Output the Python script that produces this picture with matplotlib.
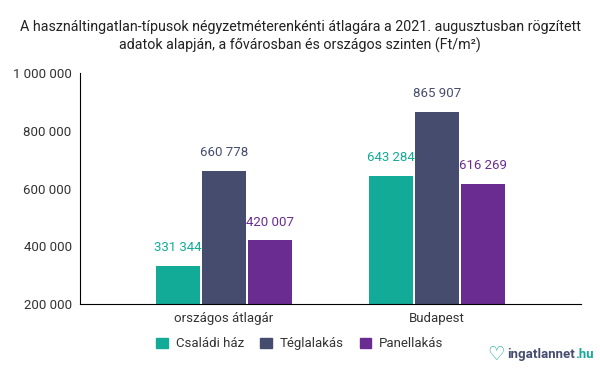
import numpy as np
import matplotlib
matplotlib.use('Agg')
from matplotlib import pyplot as plt
from matplotlib.patches import Patch

plt.rcParams['font.family'] = ['Roboto', 'DejaVu Sans']

# data
categories = ['országos átlagár', 'Budapest']
series_names = ['Családi ház', 'Téglalakás', 'Panellakás']
csaladi_haz = [331344, 643284]
teglalakas = [660778, 865907]
panellakas = [420007, 616269]
y_ticks = [200000, 400000, 600000, 800000, 1000000]

colors = ['#12ab97', '#464c6e', '#6a2c91']
title = ('A használtingatlan-típusok négyzetméterenkénti átlagára a 2021. augusztusban rögzített\n'
         'adatok alapján, a fővárosban és országos szinten (Ft/m²)')


def fmt(v):
    return f'{v:,.0f}'.replace(',', ' ')


fig = plt.figure(figsize=(6, 3.71), dpi=100)
ax = fig.add_axes([0.1333, 0.1806, 0.8350, 0.6226])

x = np.arange(len(categories))
width = 0.204
step = 0.216
for i, vals in enumerate([csaladi_haz, teglalakas, panellakas]):
    pos = x + (i - 1) * step
    ax.bar(pos, vals, width=width, color=colors[i], zorder=2)
    for p, v in zip(pos, vals):
        ax.annotate(fmt(v), (p, v), xytext=(0, 8.5), textcoords='offset points',
                    ha='center', va='bottom', color=colors[i], fontsize=9.5)

ax.set_ylim(200000, 1000000)
ax.set_xlim(-0.676, 1.676)
ax.set_yticks(y_ticks)
ax.set_yticklabels([fmt(v) for v in y_ticks], fontsize=9.5, color='#333333')
ax.set_xticks(x)
ax.set_xticklabels(categories, fontsize=9.5, color='#333333')
ax.tick_params(axis='both', length=0, pad=6)
ax.spines['top'].set_visible(False)
ax.spines['right'].set_visible(False)
ax.spines['left'].set_color('black')
ax.spines['bottom'].set_color('black')

fig.text(0.5, 0.946, title, ha='center', va='top', fontsize=10.3, color='#222222',
         linespacing=1.3)

handles = [Patch(color=c, label=n) for c, n in zip(colors, series_names)]
fig.legend(handles=handles, loc='center', bbox_to_anchor=(0.5, 0.073), ncol=3,
           frameon=False, fontsize=9.5, handlelength=0.85, handleheight=0.85,
           columnspacing=1.25, handletextpad=0.6, labelcolor='#333333')

# logo, built right to left so it stays inside the figure
hu = fig.text(0.99, 0.045, '.hu', ha='right', va='center', fontsize=9.5,
              color='#12ab97', fontweight='bold')
name_txt = ax.annotate('ingatlannet', xy=(0, 0.5), xycoords=hu, ha='right', va='center',
                       fontsize=9.5, color='#464c6e', fontweight='bold',
                       annotation_clip=False)
ax.annotate('♡', xy=(0, 0.5), xycoords=name_txt, xytext=(-2, 0),
            textcoords='offset points', ha='right', va='center', fontsize=14,
            color='#12ab97', fontweight='bold', family='DejaVu Sans',
            annotation_clip=False)

fig.savefig('out.png', dpi=100)
